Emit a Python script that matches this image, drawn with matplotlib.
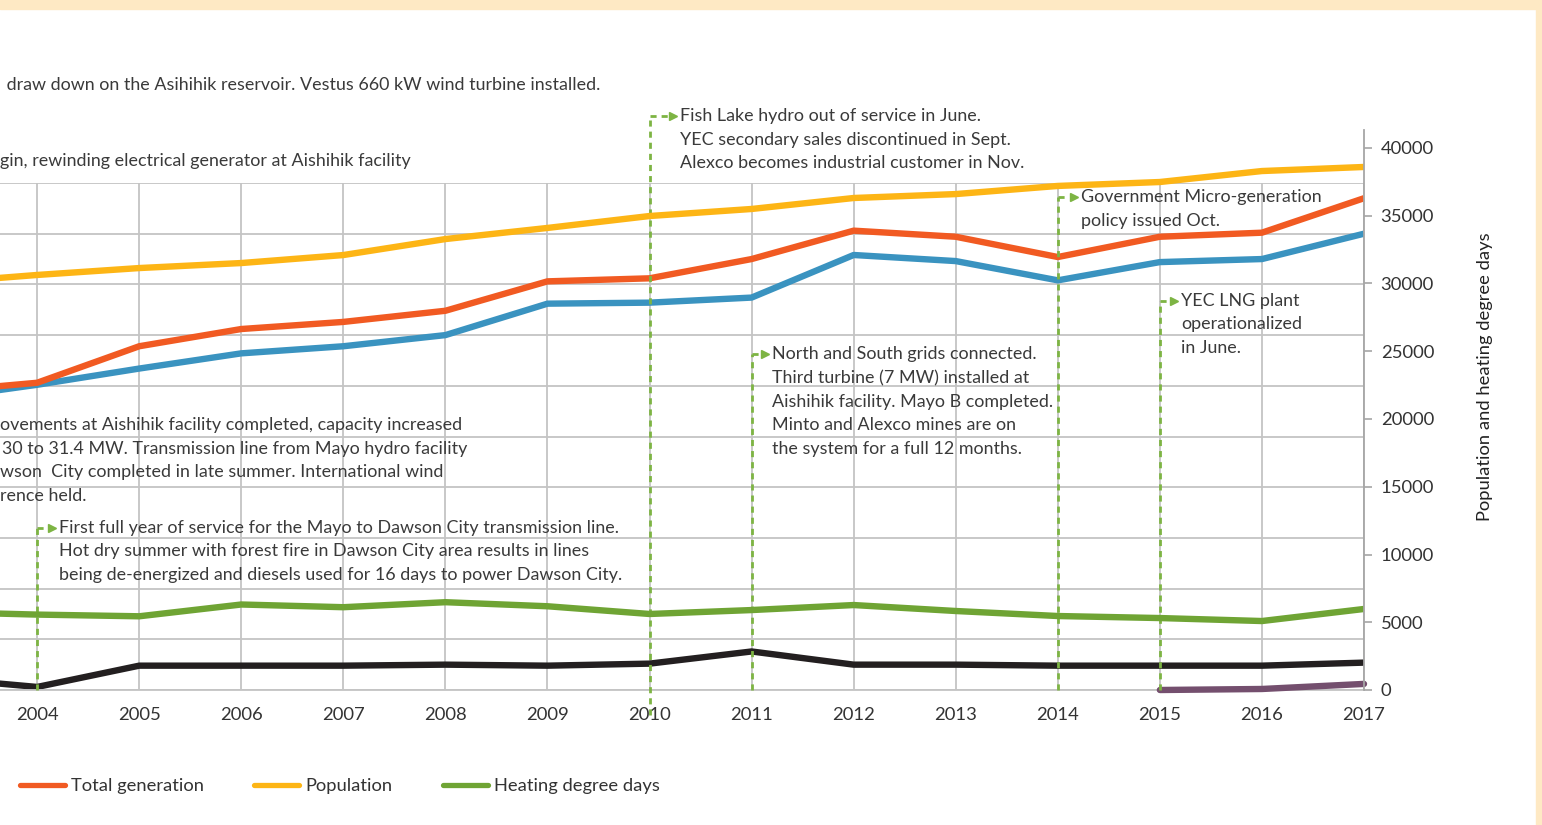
import matplotlib.pyplot as plt
from matplotlib.patches import Rectangle
from matplotlib.lines import Line2D

plt.rcParams['font.family'] = ['Lato', 'DejaVu Sans']

years = list(range(2003, 2018))
year_labels = [''] + [str(y) for y in range(2004, 2018)]
total_generation = [294, 303, 339, 356, 363, 374, 403, 406, 425, 453, 447, 427, 447, 451, 485]
hydro = [287, 301, 317, 332, 339, 350, 381, 382, 387, 429, 423, 404, 422, 425, 450]
diesel = [12, 3, 24, 24, 24, 25, 24, 26, 38, 25, 25, 24, 24, 24, 27]
lng_years = [2015, 2016, 2017]
lng = [0, 1, 6]
population = [30040, 30630, 31140, 31510, 32100, 33280, 34100, 34980, 35500,
              36310, 36600, 37200, 37490, 38300, 38600]
hdd = [5760, 5565, 5440, 6310, 6110, 6480, 6180, 5610, 5900, 6270, 5830,
       5460, 5310, 5090, 5980]
right_ticks = list(range(0, 40001, 5000))

# events: (year, top of leader in generation units, text offset px, lines of text)
events = [
    (2004, 160, 22, ["First full year of service for the Mayo to Dawson City transmission line.",
                     "Hot dry summer with forest fire in Dawson City area results in lines",
                     "being de-energized and diesels used for 16 days to power Dawson City."]),
    (2010, 566, 30, ["Fish Lake hydro out of service in June.",
                     "YEC secondary sales discontinued in Sept.",
                     "Alexco becomes industrial customer in Nov."]),
    (2011, 331, 20, ["North and South grids connected.",
                     "Third turbine (7 MW) installed at",
                     "Aishihik facility. Mayo B completed.",
                     "Minto and Alexco mines are on",
                     "the system for a full 12 months."]),
    (2014, 486, 23, ["Government Micro-generation",
                     "policy issued Oct."]),
    (2015, 384, 21, ["YEC LNG plant",
                     "operationalized",
                     "in June."]),
]
cut_texts = [
    (2, 85, " draw down on the Asihihik reservoir. Vestus 660 kW wind turbine installed."),
    (0, 161, "gin, rewinding electrical generator at Aishihik facility"),
    (0, 425, "ovements at Aishihik facility completed, capacity increased"),
    (2, 449, "30 to 31.4 MW. Transmission line from Mayo hydro facility"),
    (0, 472, "wson  City completed in late summer. International wind"),
    (0, 496, "rence held."),
]

W, H = 1542, 825
fig = plt.figure(figsize=(W / 100, H / 100), dpi=100)
fig.patch.set_facecolor('white')
peach = '#FEE9C4'
fig.patches.append(Rectangle((0, 1 - 9 / H), 1, 9 / H, transform=fig.transFigure,
                             color=peach, zorder=0))
fig.patches.append(Rectangle((1536 / W, 0), 6 / W, 1, transform=fig.transFigure,
                             color=peach, zorder=0))

left_px = 37 - 2 * 102
right_px = 1364
ax = fig.add_axes([left_px / W, 135 / H, (right_px - left_px) / W, 507 / H])
ax2 = fig.add_axes([left_px / W, 135 / H, (right_px - left_px) / W, 560 / H])
ax2.patch.set_visible(False)

ax.set_xlim(2002, 2017)
ax.set_ylim(0, 500)
ax2.set_xlim(2002, 2017)
ax2.set_ylim(0, 40000 * 560 / 542)

grid_c = '#C4C4C4'
ax.set_xticks(years)
ax.set_xticklabels(year_labels)
ax.set_yticks(range(0, 501, 50))
ax.grid(True, color=grid_c, linewidth=1.3)
ax.set_axisbelow(True)
ax.tick_params(axis='y', left=False, labelleft=False)
ax.tick_params(axis='x', length=0, pad=12.5, labelsize=13.3, labelcolor='#333333')
for s in ['top', 'left', 'right']:
    ax.spines[s].set_visible(False)
ax.spines['bottom'].set_color(grid_c)
ax.spines['bottom'].set_linewidth(1.3)

lw = 4.6
ax.plot(years, hydro, color='#3A93C0', lw=lw, solid_capstyle='butt')
ax.plot(years, total_generation, color='#F15A22', lw=lw, solid_capstyle='butt')
ax.plot(years, diesel, color='#231F20', lw=lw, solid_capstyle='butt')
ax.plot(lng_years, lng, color='#744F6E', lw=lw, solid_capstyle='round',
        clip_on=False, zorder=4)

ax2.plot(years, population, color='#FDB515', lw=lw, solid_capstyle='round')
ax2.plot(years, hdd, color='#6FA434', lw=lw, solid_capstyle='round')

ax2.xaxis.set_visible(False)
for s in ['top', 'left', 'bottom']:
    ax2.spines[s].set_visible(False)
ax2.spines['right'].set_color('#A6A6A6')
ax2.spines['right'].set_linewidth(1.3)
ax2.yaxis.tick_right()
ax2.set_yticks(right_ticks)
ax2.tick_params(axis='y', length=6, width=1.2, color='#A6A6A6', pad=6,
                labelsize=13.3, labelcolor='#333333')
ax2.set_ylabel('Population and heating degree days', fontsize=13.2, color='#222222')
ax2.yaxis.set_label_position('right')
ax2.yaxis.set_label_coords((1477 - left_px) / (right_px - left_px), (690 - 377) / 560)

# event leaders
ev_c = '#7DB443'
px_x = 1 / 102          # years per pixel
px_y = 500 / 507        # generation units per pixel
txt_c = '#3A3A3A'
for yr, top, off, lines in events:
    bottom = -25 if yr == 2010 else 0
    ax.plot([yr, yr], [bottom, top], color=ev_c, lw=2, dashes=(2.2, 1.8),
            clip_on=False, zorder=5)
    ax.plot([yr, yr + (off - 12) * px_x], [top, top], color=ev_c, lw=2,
            dashes=(2.2, 1.8), clip_on=False, zorder=5)
    ax.plot([yr + (off - 7) * px_x], [top], marker='>', color=ev_c, markersize=5.5,
            clip_on=False, zorder=5)
    for i, line in enumerate(lines):
        ax.text(yr + off * px_x, top - i * 23.6 * px_y, line, fontsize=12.9,
                color=txt_c, va='center', ha='left', clip_on=False, zorder=6)

for x0, y0, line in cut_texts:
    fig.text(x0 / W, 1 - y0 / H, line, fontsize=12.9, color=txt_c,
             va='center', ha='left')

handles = [Line2D([], [], color='#F15A22', lw=3.8, solid_capstyle='round'),
           Line2D([], [], color='#FDB515', lw=3.8, solid_capstyle='round'),
           Line2D([], [], color='#6FA434', lw=3.8, solid_capstyle='round')]
fig.legend(handles, ['Total generation', 'Population', 'Heating degree days'],
           loc='center left', bbox_to_anchor=(20 / W, 1 - 786 / H), ncol=3,
           frameon=False, fontsize=13.2, handlelength=2.45, handletextpad=0.33,
           columnspacing=2.75, borderpad=0, borderaxespad=0,
           labelcolor='#333333')

fig.savefig('out.png', dpi=100, facecolor=fig.get_facecolor())
